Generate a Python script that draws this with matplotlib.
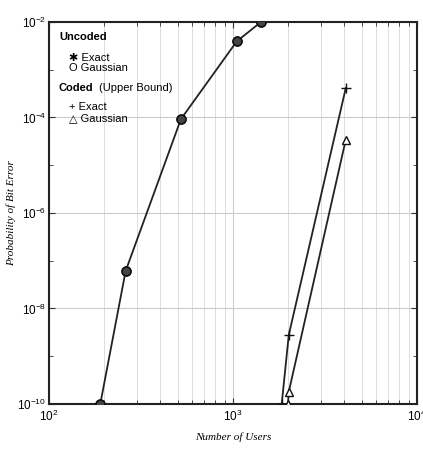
import numpy as np
import matplotlib.pyplot as plt
from matplotlib.ticker import FixedLocator, NullFormatter, LogLocator

# uncoded system
uncoded_users = [190, 261, 521, 1047, 1420]
uncoded_exact = [1e-10, 6.1e-8, 9.2e-5, 3.9e-3, 1e-2]
uncoded_gauss = [1e-10, 6.1e-8, 9.2e-5, 3.9e-3, 1e-2]

# coded system (upper bound)
coded_exact_users = [1840, 2010, 4100]
coded_exact = [1e-10, 2.8e-9, 4.1e-4]
coded_gauss_users = [1990, 2010, 4100]
coded_gauss = [1e-10, 1.8e-10, 3.4e-5]

plt.rcParams['font.family'] = ['Liberation Sans', 'DejaVu Sans']

fig = plt.figure(figsize=(4.23, 4.5), dpi=100)
ax = fig.add_axes([0.1158, 0.1022, 0.87, 0.849])

ax.plot(uncoded_users, uncoded_exact, color='#222222', lw=1.3,
        marker='o', ms=6.5, mfc='#444444', mec='#111111', zorder=3)
ax.plot(uncoded_users, uncoded_gauss, ls='none', marker='o', ms=6.5,
        mfc='none', mec='#111111', mew=1.0, zorder=4)
ax.plot(coded_exact_users, coded_exact, color='#222222', lw=1.3,
        marker='+', ms=7, mec='#111111', zorder=3)
ax.plot(coded_gauss_users, coded_gauss, color='#222222', lw=1.3,
        marker='^', ms=6, mfc='white', mec='#111111', zorder=3)

ax.set_xscale('log')
ax.set_yscale('log')
ax.set_xlim(1e2, 1e4)
ax.set_ylim(1e-10, 1e-2)

ax.yaxis.set_major_locator(FixedLocator([1e-10, 1e-8, 1e-6, 1e-4, 1e-2]))
ax.yaxis.set_minor_locator(FixedLocator([1e-9, 1e-7, 1e-5, 1e-3]))
ax.yaxis.set_minor_formatter(NullFormatter())
ax.xaxis.set_major_locator(LogLocator(base=10))
ax.xaxis.set_minor_locator(LogLocator(base=10, subs=np.arange(2, 10)))
ax.xaxis.set_minor_formatter(NullFormatter())

ax.grid(True, which='major', color='#cccccc', lw=0.8)
ax.grid(True, which='minor', axis='x', color='#dddddd', lw=0.7)
ax.tick_params(which='both', direction='in', top=True, right=True,
               labelsize=8.5, color='#333333')
ax.tick_params(axis='y', pad=2)
ax.tick_params(which='major', length=4)
ax.tick_params(which='minor', length=3)
for s in ax.spines.values():
    s.set_linewidth(1.5)
    s.set_color('#222222')

ax.set_xlabel('Number of Users', family=['Liberation Serif', 'DejaVu Serif'],
              style='italic', fontsize=8, labelpad=6)
ax.set_ylabel('Probability of Bit Error', family=['Liberation Serif', 'DejaVu Serif'],
              style='italic', fontsize=8, labelpad=1)

# hand-made legend text
tx = ax.transAxes
ax.text(0.027, 0.975, 'Uncoded', transform=tx, fontsize=8, weight='bold', va='top')
ax.text(0.055, 0.92, '✱ Exact', transform=tx, fontsize=8, va='top')
ax.text(0.055, 0.892, 'O Gaussian', transform=tx, fontsize=8, va='top')
ax.text(0.027, 0.84, 'Coded', transform=tx, fontsize=8, weight='bold', va='top')
ax.text(0.135, 0.84, '(Upper Bound)', transform=tx, fontsize=8, va='top')
ax.text(0.055, 0.79, '+ Exact', transform=tx, fontsize=8, va='top')
ax.text(0.055, 0.76, '△ Gaussian', transform=tx, fontsize=8, va='top')

fig.savefig('out.png', dpi=100)
